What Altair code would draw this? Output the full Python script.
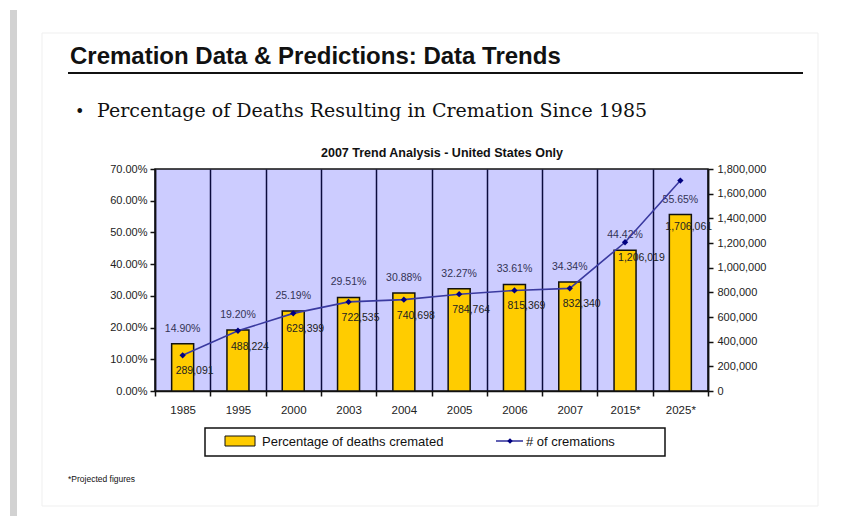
import altair as alt
import pandas as pd

years = ["1985", "1995", "2000", "2003", "2004", "2005", "2006", "2007", "2015*", "2025*"]
pct = [14.90, 19.20, 25.19, 29.51, 30.88, 32.27, 33.61, 34.34, 44.42, 55.65]
cremations = [289091, 488224, 629399, 722535, 740698, 784764, 815369, 832340, 1206019, 1706061]
left_ticks = [0, 0.1, 0.2, 0.3, 0.4, 0.5, 0.6, 0.7]
right_ticks = [0, 200000, 400000, 600000, 800000, 1000000, 1200000, 1400000, 1600000, 1800000]

df = pd.DataFrame({
    "year": years,
    "pct": [p / 100 for p in pct],
    "pct_label": [f"{p:.2f}%" for p in pct],
    "count": cremations,
    "count_label": [f"{c:,}" for c in cremations],
})

FONT = "Liberation Sans"

x = alt.X("year:N", sort=years,
          scale=alt.Scale(paddingInner=0, paddingOuter=0),
          axis=alt.Axis(title=None, labelAngle=0, grid=True, gridColor="#0b0b3c",
                        gridWidth=1.5, tickBand="extent", tickSize=5, labelPadding=8,
                        labelFontSize=11.5))

y_left = alt.Y("pct:Q", scale=alt.Scale(domain=[0, 0.7], nice=False),
               axis=alt.Axis(title=None, orient="left", values=left_ticks, format=".2%",
                             grid=False, tickSize=5, labelPadding=3, labelFontSize=11))
y_right = alt.Y("count:Q", scale=alt.Scale(domain=[0, 1800000], nice=False),
                axis=alt.Axis(title=None, orient="right", values=right_ticks,
                              labelExpr="format(datum.value, ',')",
                              grid=False, tickSize=5, labelPadding=4, labelFontSize=11))

base = alt.Chart(df)
bars = base.mark_bar(size=22, fill="#FFCC00", stroke="#111111", strokeWidth=1.5).encode(x=x, y=y_left)
pct_text = base.mark_text(dy=-15, fontSize=10.5, color="#333355", font=FONT).encode(
    x=x, y=y_left, text="pct_label:N")
left_layer = alt.layer(bars, pct_text)

line = base.mark_line(color="#3a3aa0", strokeWidth=1.6).encode(x=x, y=y_right)
pts = base.mark_point(shape="diamond", filled=True, size=40, color="#000080", opacity=1).encode(x=x, y=y_right)
cnt_text = base.transform_filter(alt.datum.year != "2025*").mark_text(
    align="left", dx=-7, dy=16, fontSize=10.5, color="#222222", font=FONT).encode(
    x=x, y=y_right, text="count_label:N")
cnt_last = base.transform_filter(alt.datum.year == "2025*").mark_text(
    align="left", dx=-15, dy=46, fontSize=10.5, color="#222222", font=FONT).encode(
    x=x, y=y_right, text="count_label:N")
right_layer = alt.layer(line, pts, cnt_text, cnt_last)

one = alt.Chart(pd.DataFrame({"a": [0]}))

def txt(s, xv, yv, **kw):
    return one.mark_text(text=s, **kw).encode(x=alt.value(xv), y=alt.value(yv))

def box(x1, x2, y1, y2, **kw):
    return one.mark_rect(**kw).encode(x=alt.value(x1), x2=alt.value(x2), y=alt.value(y1), y2=alt.value(y2))

deco = [
    box(-145, -138, -159, 347, fill="#d2d2d2"),
    box(-113, 663, -136, 337, fill="white", fillOpacity=0, stroke="#efefef", strokeWidth=1),
    txt("Cremation Data & Predictions: Data Trends", -85, -105, align="left", baseline="alphabetic",
        font=FONT, fontSize=24, fontWeight="bold", color="#111111"),
    one.mark_rule(color="#111111", strokeWidth=2).encode(x=alt.value(-87), x2=alt.value(648), y=alt.value(-96)),
    txt("\u2022", -80, -52, align="left", baseline="alphabetic", font="DejaVu Serif", fontSize=16, color="#111111"),
    txt("Percentage of Deaths Resulting in Cremation Since 1985", -58, -52, align="left", baseline="alphabetic",
        font="DejaVu Serif", fontSize=19, color="#111111"),
    txt("2007 Trend Analysis - United States Only", 287, -12, align="center", baseline="alphabetic",
        font=FONT, fontSize=12.5, fontWeight="bold", color="#111111"),
    box(50, 510, 259, 287, fill="white", stroke="#111111", strokeWidth=1.5),
    box(70, 100, 267, 277, fill="#FFCC00", stroke="#111111", strokeWidth=1),
    txt("Percentage of deaths cremated", 107, 273, align="left", baseline="middle", font=FONT, fontSize=13, color="#111111"),
    one.mark_rule(color="#3a3aa0", strokeWidth=1.6).encode(x=alt.value(341), x2=alt.value(368), y=alt.value(272)),
    one.mark_point(shape="diamond", filled=True, size=30, color="#000080", opacity=1).encode(x=alt.value(355), y=alt.value(272)),
    txt("# of cremations", 371, 273, align="left", baseline="middle", font=FONT, fontSize=13, color="#111111"),
    txt("*Projected figures", -87, 310, align="left", baseline="middle", font=FONT, fontSize=8.5, color="#111111"),
]

chart = alt.layer(*deco[:2], left_layer, right_layer, *deco[2:]).resolve_scale(y="independent").properties(
    width=553, height=222,
    autosize=alt.AutoSizeParams(type="none"),
    padding={"left": 147, "top": 161, "right": 130, "bottom": 125},
    background="white",
).configure_view(fill="#CCCCFF", stroke="#111111", strokeWidth=1.5).configure_axis(
    labelFont=FONT, labelColor="#222222", domainColor="#111111", domainWidth=1.5,
    tickColor="#111111", tickWidth=1.5,
)

chart.save("out.html", embed_options={"renderer": "svg", "actions": False})
